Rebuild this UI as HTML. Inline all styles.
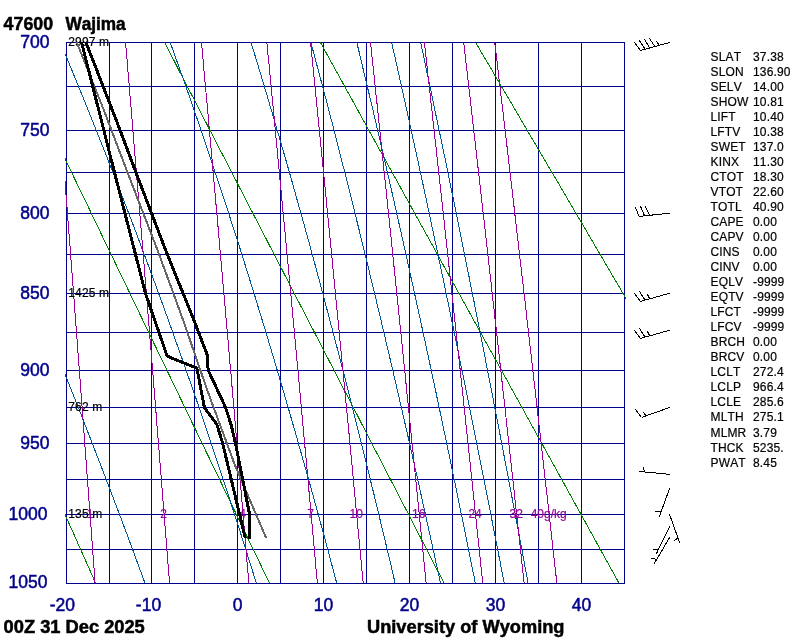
<!DOCTYPE html>
<html><head><meta charset="utf-8"><title>47600 Wajima Sounding</title>
<style>
html,body{margin:0;padding:0;background:#fff;}
body{width:800px;height:640px;overflow:hidden;}
svg{display:block;font-family:"Liberation Sans",Arial,Helvetica,sans-serif;font-kerning:none;}
.s{font-size:12px;stroke-width:0.2px;}
.a{font-size:17.5px;}
.lab{letter-spacing:0.15px;}
.val{letter-spacing:0.15px;}
.b{font-size:17.5px;font-weight:bold;}
</style></head><body>
<svg width="800" height="640" viewBox="0 0 800 640" shape-rendering="crispEdges">
<defs><clipPath id="c"><rect x="65" y="42" width="561" height="542"/></clipPath></defs>
<rect width="800" height="640" fill="#fff"/>
<g stroke="#00008b" stroke-width="1" fill="none">
<line x1="66.0" y1="42.5" x2="625.0" y2="42.5"/>
<line x1="66.0" y1="86.5" x2="625.0" y2="86.5"/>
<line x1="66.0" y1="130.5" x2="625.0" y2="130.5"/>
<line x1="66.0" y1="172.5" x2="625.0" y2="172.5"/>
<line x1="66.0" y1="213.5" x2="625.0" y2="213.5"/>
<line x1="66.0" y1="254.5" x2="625.0" y2="254.5"/>
<line x1="66.0" y1="293.5" x2="625.0" y2="293.5"/>
<line x1="66.0" y1="332.5" x2="625.0" y2="332.5"/>
<line x1="66.0" y1="370.5" x2="625.0" y2="370.5"/>
<line x1="66.0" y1="407.5" x2="625.0" y2="407.5"/>
<line x1="66.0" y1="443.5" x2="625.0" y2="443.5"/>
<line x1="66.0" y1="479.5" x2="625.0" y2="479.5"/>
<line x1="66.0" y1="514.5" x2="625.0" y2="514.5"/>
<line x1="66.0" y1="549.5" x2="625.0" y2="549.5"/>
<line x1="66.0" y1="583.5" x2="625.0" y2="583.5"/>
<line x1="66.5" y1="42.0" x2="66.5" y2="583.5"/>
<line x1="109.5" y1="42.0" x2="109.5" y2="583.5"/>
<line x1="151.5" y1="42.0" x2="151.5" y2="583.5"/>
<line x1="194.5" y1="42.0" x2="194.5" y2="583.5"/>
<line x1="237.5" y1="42.0" x2="237.5" y2="583.5"/>
<line x1="280.5" y1="42.0" x2="280.5" y2="583.5"/>
<line x1="323.5" y1="42.0" x2="323.5" y2="583.5"/>
<line x1="366.5" y1="42.0" x2="366.5" y2="583.5"/>
<line x1="409.5" y1="42.0" x2="409.5" y2="583.5"/>
<line x1="452.5" y1="42.0" x2="452.5" y2="583.5"/>
<line x1="495.5" y1="42.0" x2="495.5" y2="583.5"/>
<line x1="538.5" y1="42.0" x2="538.5" y2="583.5"/>
<line x1="581.5" y1="42.0" x2="581.5" y2="583.5"/>
<line x1="624.5" y1="42.0" x2="624.5" y2="583.5"/>
</g>
<g clip-path="url(#c)" fill="none">
<polyline points="-145.6,42.5 -141.6,51.5 -137.7,60.4 -133.7,69.3 -129.8,78.1 -125.8,86.9 -121.9,95.6 -118.1,104.3 -114.2,113.0 -110.4,121.6 -106.5,130.2 -102.7,138.7 -98.9,147.2 -95.2,155.6 -91.4,164.0 -87.7,172.4 -84.0,180.7 -80.3,189.0 -76.6,197.3 -72.9,205.5 -69.2,213.7 -65.6,221.8 -62.0,229.9 -58.4,238.0 -54.8,246.0 -51.2,254.0 -47.7,262.0 -44.1,270.0 -40.6,277.9 -37.1,285.7 -33.6,293.6 -30.1,301.4 -26.6,309.1 -23.2,316.9 -19.7,324.6 -16.3,332.2 -12.9,339.9 -9.5,347.5 -6.1,355.1 -2.8,362.6 0.6,370.1 3.9,377.6 7.3,385.1 10.6,392.5 13.9,399.9 17.2,407.3 20.5,414.6 23.7,422.0 27.0,429.3 30.2,436.5 33.5,443.8 36.7,451.0 39.9,458.1 43.1,465.3 46.3,472.4 49.4,479.5 52.6,486.6 55.7,493.6 58.9,500.7 62.0,507.7 65.1,514.6 68.2,521.6 71.3,528.5 74.4,535.4 77.4,542.3 80.5,549.1 83.5,556.0 86.6,562.8 89.6,569.6 92.6,576.3 95.6,583.0" stroke="#008000" stroke-width="1" />
<polyline points="9.1,42.5 13.4,51.5 17.7,60.4 22.0,69.3 26.2,78.1 30.4,86.9 34.7,95.6 38.8,104.3 43.0,113.0 47.2,121.6 51.3,130.2 55.4,138.7 59.5,147.2 63.6,155.6 67.6,164.0 71.6,172.4 75.6,180.7 79.6,189.0 83.6,197.3 87.6,205.5 91.5,213.7 95.4,221.8 99.3,229.9 103.2,238.0 107.1,246.0 111.0,254.0 114.8,262.0 118.6,270.0 122.4,277.9 126.2,285.7 130.0,293.6 133.7,301.4 137.5,309.1 141.2,316.9 144.9,324.6 148.6,332.2 152.3,339.9 156.0,347.5 159.6,355.1 163.3,362.6 166.9,370.1 170.5,377.6 174.1,385.1 177.7,392.5 181.2,399.9 184.8,407.3 188.3,414.6 191.8,422.0 195.4,429.3 198.8,436.5 202.3,443.8 205.8,451.0 209.3,458.1 212.7,465.3 216.1,472.4 219.6,479.5 223.0,486.6 226.4,493.6 229.8,500.7 233.1,507.7 236.5,514.6 239.8,521.6 243.2,528.5 246.5,535.4 249.8,542.3 253.1,549.1 256.4,556.0 259.7,562.8 262.9,569.6 266.2,576.3 269.4,583.0" stroke="#008000" stroke-width="1" />
<polyline points="164.6,42.5 169.3,51.5 173.9,60.4 178.4,69.3 183.0,78.1 187.5,86.9 192.1,95.6 196.6,104.3 201.0,113.0 205.5,121.6 209.9,130.2 214.3,138.7 218.7,147.2 223.1,155.6 227.4,164.0 231.7,172.4 236.1,180.7 240.3,189.0 244.6,197.3 248.9,205.5 253.1,213.7 257.3,221.8 261.5,229.9 265.7,238.0 269.8,246.0 274.0,254.0 278.1,262.0 282.2,270.0 286.3,277.9 290.3,285.7 294.4,293.6 298.4,301.4 302.4,309.1 306.4,316.9 310.4,324.6 314.4,332.2 318.3,339.9 322.3,347.5 326.2,355.1 330.1,362.6 334.0,370.1 337.8,377.6 341.7,385.1 345.5,392.5 349.4,399.9 353.2,407.3 357.0,414.6 360.8,422.0 364.5,429.3 368.3,436.5 372.0,443.8 375.7,451.0 379.5,458.1 383.1,465.3 386.8,472.4 390.5,479.5 394.2,486.6 397.8,493.6 401.4,500.7 405.1,507.7 408.7,514.6 412.3,521.6 415.8,528.5 419.4,535.4 423.0,542.3 426.5,549.1 430.0,556.0 433.5,562.8 437.0,569.6 440.5,576.3 444.0,583.0" stroke="#008000" stroke-width="1" />
<polyline points="320.5,42.5 325.4,51.5 330.3,60.4 335.2,69.3 340.1,78.1 344.9,86.9 349.8,95.6 354.6,104.3 359.3,113.0 364.1,121.6 368.8,130.2 373.5,138.7 378.2,147.2 382.9,155.6 387.5,164.0 392.2,172.4 396.8,180.7 401.3,189.0 405.9,197.3 410.4,205.5 414.9,213.7 419.4,221.8 423.9,229.9 428.4,238.0 432.8,246.0 437.2,254.0 441.6,262.0 446.0,270.0 450.4,277.9 454.7,285.7 459.1,293.6 463.4,301.4 467.7,309.1 471.9,316.9 476.2,324.6 480.4,332.2 484.6,339.9 488.8,347.5 493.0,355.1 497.2,362.6 501.3,370.1 505.5,377.6 509.6,385.1 513.7,392.5 517.8,399.9 521.9,407.3 525.9,414.6 530.0,422.0 534.0,429.3 538.0,436.5 542.0,443.8 546.0,451.0 549.9,458.1 553.9,465.3 557.8,472.4 561.7,479.5 565.7,486.6 569.5,493.6 573.4,500.7 577.3,507.7 581.1,514.6 585.0,521.6 588.8,528.5 592.6,535.4 596.4,542.3 600.2,549.1 604.0,556.0 607.7,562.8 611.5,569.6 615.2,576.3 618.9,583.0" stroke="#008000" stroke-width="1" />
<polyline points="475.7,42.5 480.9,51.5 486.2,60.4 491.4,69.3 496.6,78.1 501.7,86.9 506.9,95.6 512.0,104.3 517.1,113.0 522.1,121.6 527.1,130.2 532.2,138.7 537.1,147.2 542.1,155.6 547.0,164.0 552.0,172.4 556.9,180.7 561.7,189.0 566.6,197.3 571.4,205.5 576.2,213.7 581.0,221.8 585.8,229.9 590.5,238.0 595.2,246.0 599.9,254.0 604.6,262.0 609.3,270.0 613.9,277.9 618.5,285.7 623.1,293.6 627.7,301.4 632.3,309.1 636.8,316.9 641.4,324.6 645.9,332.2 650.4,339.9 654.8,347.5 659.3,355.1 663.7,362.6 668.1,370.1 672.5,377.6 676.9,385.1 681.3,392.5 685.6,399.9 690.0,407.3 694.3,414.6 698.6,422.0 702.9,429.3 707.1,436.5 711.4,443.8 715.6,451.0 719.8,458.1 724.0,465.3 728.2,472.4 732.4,479.5 736.5,486.6 740.7,493.6 744.8,500.7 748.9,507.7 753.0,514.6 757.1,521.6 761.2,528.5 765.2,535.4 769.3,542.3 773.3,549.1 777.3,556.0 781.3,562.8 785.3,569.6 789.2,576.3 793.2,583.0" stroke="#008000" stroke-width="1" />
<polyline points="-74.7,42.5 -70.8,51.5 -66.9,60.4 -63.0,69.3 -59.1,78.1 -55.3,86.9 -51.5,95.6 -47.7,104.3 -44.0,113.0 -40.2,121.6 -36.5,130.2 -32.9,138.7 -29.2,147.2 -25.6,155.6 -22.0,164.0 -18.4,172.4 -14.9,180.7 -11.3,189.0 -7.8,197.3 -4.4,205.5 -0.9,213.7 2.5,221.8 5.9,229.9 9.3,238.0 12.7,246.0 16.0,254.0 19.3,262.0 22.6,270.0 25.9,277.9 29.1,285.7 32.4,293.6 35.6,301.4 38.7,309.1 41.9,316.9 45.0,324.6 48.2,332.2 51.3,339.9 54.3,347.5 57.4,355.1 60.4,362.6 63.4,370.1 66.4,377.6 69.4,385.1 72.3,392.5 75.3,399.9 78.2,407.3 81.1,414.6 83.9,422.0 86.8,429.3 89.6,436.5 92.4,443.8 95.2,451.0 98.0,458.1 100.8,465.3 103.5,472.4 106.2,479.5 108.9,486.6 111.6,493.6 114.3,500.7 116.9,507.7 119.6,514.6 122.2,521.6 124.8,528.5 127.4,535.4 129.9,542.3 132.5,549.1 135.0,556.0 137.5,562.8 140.0,569.6 142.5,576.3 144.9,583.0" stroke="#005596" stroke-width="1" />
<polyline points="60.4,42.5 64.1,51.5 67.8,60.4 71.5,69.3 75.1,78.1 78.7,86.9 82.3,95.6 85.8,104.3 89.3,113.0 92.8,121.6 96.2,130.2 99.6,138.7 103.0,147.2 106.3,155.6 109.6,164.0 112.9,172.4 116.2,180.7 119.4,189.0 122.6,197.3 125.7,205.5 128.9,213.7 132.0,221.8 135.1,229.9 138.1,238.0 141.1,246.0 144.1,254.0 147.1,262.0 150.0,270.0 153.0,277.9 155.9,285.7 158.7,293.6 161.6,301.4 164.4,309.1 167.2,316.9 170.0,324.6 172.7,332.2 175.4,339.9 178.1,347.5 180.8,355.1 183.5,362.6 186.1,370.1 188.7,377.6 191.3,385.1 193.9,392.5 196.5,399.9 199.0,407.3 201.5,414.6 204.0,422.0 206.5,429.3 208.9,436.5 211.3,443.8 213.7,451.0 216.1,458.1 218.5,465.3 220.9,472.4 223.2,479.5 225.5,486.6 227.8,493.6 230.1,500.7 232.4,507.7 234.6,514.6 236.9,521.6 239.1,528.5 241.3,535.4 243.5,542.3 245.7,549.1 247.8,556.0 249.9,562.8 252.1,569.6 254.2,576.3 256.3,583.0" stroke="#005596" stroke-width="1" />
<polyline points="170.2,42.5 173.5,51.5 176.6,60.4 179.8,69.3 182.9,78.1 186.0,86.9 189.1,95.6 192.1,104.3 195.1,113.0 198.1,121.6 201.0,130.2 203.9,138.7 206.8,147.2 209.6,155.6 212.4,164.0 215.2,172.4 218.0,180.7 220.7,189.0 223.4,197.3 226.1,205.5 228.8,213.7 231.4,221.8 234.0,229.9 236.6,238.0 239.2,246.0 241.7,254.0 244.2,262.0 246.7,270.0 249.2,277.9 251.6,285.7 254.1,293.6 256.5,301.4 258.8,309.1 261.2,316.9 263.6,324.6 265.9,332.2 268.2,339.9 270.5,347.5 272.7,355.1 275.0,362.6 277.2,370.1 279.4,377.6 281.6,385.1 283.8,392.5 285.9,399.9 288.1,407.3 290.2,414.6 292.3,422.0 294.4,429.3 296.5,436.5 298.5,443.8 300.6,451.0 302.6,458.1 304.6,465.3 306.6,472.4 308.6,479.5 310.6,486.6 312.5,493.6 314.5,500.7 316.4,507.7 318.3,514.6 320.2,521.6 322.1,528.5 324.0,535.4 325.8,542.3 327.7,549.1 329.5,556.0 331.3,562.8 333.1,569.6 334.9,576.3 336.7,583.0" stroke="#005596" stroke-width="1" />
<polyline points="251.0,42.5 253.8,51.5 256.5,60.4 259.2,69.3 261.8,78.1 264.5,86.9 267.1,95.6 269.6,104.3 272.2,113.0 274.7,121.6 277.2,130.2 279.7,138.7 282.2,147.2 284.6,155.6 287.0,164.0 289.4,172.4 291.8,180.7 294.1,189.0 296.4,197.3 298.7,205.5 301.0,213.7 303.3,221.8 305.5,229.9 307.8,238.0 310.0,246.0 312.1,254.0 314.3,262.0 316.5,270.0 318.6,277.9 320.7,285.7 322.8,293.6 324.9,301.4 326.9,309.1 329.0,316.9 331.0,324.6 333.0,332.2 335.0,339.9 337.0,347.5 339.0,355.1 340.9,362.6 342.9,370.1 344.8,377.6 346.7,385.1 348.6,392.5 350.5,399.9 352.4,407.3 354.2,414.6 356.0,422.0 357.9,429.3 359.7,436.5 361.5,443.8 363.3,451.0 365.1,458.1 366.8,465.3 368.6,472.4 370.3,479.5 372.0,486.6 373.8,493.6 375.5,500.7 377.2,507.7 378.8,514.6 380.5,521.6 382.2,528.5 383.8,535.4 385.5,542.3 387.1,549.1 388.7,556.0 390.4,562.8 392.0,569.6 393.5,576.3 395.1,583.0" stroke="#005596" stroke-width="1" />
<polyline points="310.9,42.5 313.3,51.5 315.7,60.4 318.0,69.3 320.4,78.1 322.7,86.9 325.0,95.6 327.3,104.3 329.5,113.0 331.8,121.6 334.0,130.2 336.2,138.7 338.3,147.2 340.5,155.6 342.6,164.0 344.8,172.4 346.9,180.7 349.0,189.0 351.0,197.3 353.1,205.5 355.1,213.7 357.1,221.8 359.1,229.9 361.1,238.0 363.1,246.0 365.1,254.0 367.0,262.0 368.9,270.0 370.8,277.9 372.7,285.7 374.6,293.6 376.5,301.4 378.3,309.1 380.2,316.9 382.0,324.6 383.8,332.2 385.6,339.9 387.4,347.5 389.2,355.1 391.0,362.6 392.7,370.1 394.5,377.6 396.2,385.1 397.9,392.5 399.6,399.9 401.3,407.3 403.0,414.6 404.7,422.0 406.3,429.3 408.0,436.5 409.6,443.8 411.3,451.0 412.9,458.1 414.5,465.3 416.1,472.4 417.7,479.5 419.3,486.6 420.8,493.6 422.4,500.7 423.9,507.7 425.5,514.6 427.0,521.6 428.5,528.5 430.1,535.4 431.6,542.3 433.1,549.1 434.6,556.0 436.0,562.8 437.5,569.6 439.0,576.3 440.4,583.0" stroke="#005596" stroke-width="1" />
<polyline points="356.8,42.5 359.0,51.5 361.1,60.4 363.2,69.3 365.3,78.1 367.4,86.9 369.5,95.6 371.6,104.3 373.6,113.0 375.6,121.6 377.6,130.2 379.6,138.7 381.6,147.2 383.5,155.6 385.5,164.0 387.4,172.4 389.3,180.7 391.2,189.0 393.1,197.3 394.9,205.5 396.8,213.7 398.6,221.8 400.5,229.9 402.3,238.0 404.1,246.0 405.9,254.0 407.6,262.0 409.4,270.0 411.1,277.9 412.9,285.7 414.6,293.6 416.3,301.4 418.0,309.1 419.7,316.9 421.4,324.6 423.0,332.2 424.7,339.9 426.3,347.5 428.0,355.1 429.6,362.6 431.2,370.1 432.8,377.6 434.4,385.1 436.0,392.5 437.5,399.9 439.1,407.3 440.7,414.6 442.2,422.0 443.7,429.3 445.3,436.5 446.8,443.8 448.3,451.0 449.8,458.1 451.3,465.3 452.7,472.4 454.2,479.5 455.7,486.6 457.1,493.6 458.6,500.7 460.0,507.7 461.4,514.6 462.9,521.6 464.3,528.5 465.7,535.4 467.1,542.3 468.5,549.1 469.8,556.0 471.2,562.8 472.6,569.6 474.0,576.3 475.3,583.0" stroke="#005596" stroke-width="1" />
<polyline points="391.6,42.5 393.7,51.5 395.7,60.4 397.7,69.3 399.6,78.1 401.6,86.9 403.5,95.6 405.5,104.3 407.4,113.0 409.3,121.6 411.2,130.2 413.0,138.7 414.9,147.2 416.7,155.6 418.6,164.0 420.4,172.4 422.2,180.7 424.0,189.0 425.8,197.3 427.5,205.5 429.3,213.7 431.0,221.8 432.7,229.9 434.4,238.0 436.2,246.0 437.8,254.0 439.5,262.0 441.2,270.0 442.9,277.9 444.5,285.7 446.1,293.6 447.8,301.4 449.4,309.1 451.0,316.9 452.6,324.6 454.2,332.2 455.7,339.9 457.3,347.5 458.9,355.1 460.4,362.6 461.9,370.1 463.5,377.6 465.0,385.1 466.5,392.5 468.0,399.9 469.5,407.3 471.0,414.6 472.4,422.0 473.9,429.3 475.4,436.5 476.8,443.8 478.3,451.0 479.7,458.1 481.1,465.3 482.5,472.4 483.9,479.5 485.3,486.6 486.7,493.6 488.1,500.7 489.5,507.7 490.9,514.6 492.2,521.6 493.6,528.5 494.9,535.4 496.3,542.3 497.6,549.1 498.9,556.0 500.3,562.8 501.6,569.6 502.9,576.3 504.2,583.0" stroke="#005596" stroke-width="1" />
<polyline points="420.6,42.5 422.6,51.5 424.5,60.4 426.3,69.3 428.2,78.1 430.1,86.9 431.9,95.6 433.7,104.3 435.5,113.0 437.3,121.6 439.1,130.2 440.9,138.7 442.7,147.2 444.4,155.6 446.2,164.0 447.9,172.4 449.6,180.7 451.3,189.0 453.0,197.3 454.7,205.5 456.3,213.7 458.0,221.8 459.6,229.9 461.3,238.0 462.9,246.0 464.5,254.0 466.1,262.0 467.7,270.0 469.3,277.9 470.8,285.7 472.4,293.6 474.0,301.4 475.5,309.1 477.0,316.9 478.6,324.6 480.1,332.2 481.6,339.9 483.1,347.5 484.6,355.1 486.0,362.6 487.5,370.1 489.0,377.6 490.4,385.1 491.9,392.5 493.3,399.9 494.7,407.3 496.2,414.6 497.6,422.0 499.0,429.3 500.4,436.5 501.8,443.8 503.2,451.0 504.5,458.1 505.9,465.3 507.3,472.4 508.6,479.5 510.0,486.6 511.3,493.6 512.6,500.7 513.9,507.7 515.3,514.6 516.6,521.6 517.9,528.5 519.2,535.4 520.5,542.3 521.8,549.1 523.0,556.0 524.3,562.8 525.6,569.6 526.8,576.3 528.1,583.0" stroke="#005596" stroke-width="1" />
<polyline points="54.3,42.5 55.0,51.5 55.7,60.4 56.3,69.3 57.0,78.1 57.7,86.9 58.4,95.6 59.1,104.3 59.7,113.0 60.4,121.6 61.1,130.2 61.7,138.7 62.4,147.2 63.0,155.6 63.7,164.0 64.3,172.4 65.0,180.7 65.6,189.0 66.2,197.3 66.9,205.5 67.5,213.7 68.1,221.8 68.7,229.9 69.4,238.0 70.0,246.0 70.6,254.0 71.2,262.0 71.8,270.0 72.4,277.9 73.0,285.7 73.6,293.6 74.2,301.4 74.7,309.1 75.3,316.9 75.9,324.6 76.5,332.2 77.1,339.9 77.6,347.5 78.2,355.1 78.8,362.6 79.3,370.1 79.9,377.6 80.5,385.1 81.0,392.5 81.6,399.9 82.1,407.3 82.7,414.6 83.2,422.0 83.7,429.3 84.3,436.5 84.8,443.8 85.3,451.0 85.9,458.1 86.4,465.3 86.9,472.4 87.5,479.5 88.0,486.6 88.5,493.6 89.0,500.7 89.5,507.7 90.0,514.6 90.6,521.6 91.1,528.5 91.6,535.4 92.1,542.3 92.6,549.1 93.1,556.0 93.6,562.8 94.1,569.6 94.6,576.3 95.0,583.0" stroke="#990099" stroke-width="1" />
<polyline points="125.6,42.5 126.3,51.5 127.1,60.4 127.8,69.3 128.6,78.1 129.3,86.9 130.0,95.6 130.8,104.3 131.5,113.0 132.2,121.6 132.9,130.2 133.6,138.7 134.3,147.2 135.0,155.6 135.7,164.0 136.4,172.4 137.1,180.7 137.8,189.0 138.5,197.3 139.2,205.5 139.8,213.7 140.5,221.8 141.2,229.9 141.8,238.0 142.5,246.0 143.2,254.0 143.8,262.0 144.5,270.0 145.1,277.9 145.7,285.7 146.4,293.6 147.0,301.4 147.6,309.1 148.3,316.9 148.9,324.6 149.5,332.2 150.1,339.9 150.8,347.5 151.4,355.1 152.0,362.6 152.6,370.1 153.2,377.6 153.8,385.1 154.4,392.5 155.0,399.9 155.6,407.3 156.2,414.6 156.7,422.0 157.3,429.3 157.9,436.5 158.5,443.8 159.1,451.0 159.6,458.1 160.2,465.3 160.8,472.4 161.3,479.5 161.9,486.6 162.5,493.6 163.0,500.7 163.6,507.7 164.1,514.6 164.7,521.6 165.2,528.5 165.8,535.4 166.3,542.3 166.8,549.1 167.4,556.0 167.9,562.8 168.4,569.6 169.0,576.3 169.5,583.0" stroke="#990099" stroke-width="1" />
<polyline points="201.5,42.5 202.3,51.5 203.1,60.4 203.9,69.3 204.7,78.1 205.5,86.9 206.3,95.6 207.1,104.3 207.9,113.0 208.6,121.6 209.4,130.2 210.2,138.7 210.9,147.2 211.7,155.6 212.4,164.0 213.2,172.4 213.9,180.7 214.7,189.0 215.4,197.3 216.1,205.5 216.9,213.7 217.6,221.8 218.3,229.9 219.0,238.0 219.7,246.0 220.4,254.0 221.1,262.0 221.8,270.0 222.5,277.9 223.2,285.7 223.9,293.6 224.6,301.4 225.3,309.1 225.9,316.9 226.6,324.6 227.3,332.2 228.0,339.9 228.6,347.5 229.3,355.1 229.9,362.6 230.6,370.1 231.3,377.6 231.9,385.1 232.5,392.5 233.2,399.9 233.8,407.3 234.5,414.6 235.1,422.0 235.7,429.3 236.3,436.5 237.0,443.8 237.6,451.0 238.2,458.1 238.8,465.3 239.4,472.4 240.0,479.5 240.7,486.6 241.3,493.6 241.9,500.7 242.5,507.7 243.1,514.6 243.6,521.6 244.2,528.5 244.8,535.4 245.4,542.3 246.0,549.1 246.6,556.0 247.1,562.8 247.7,569.6 248.3,576.3 248.9,583.0" stroke="#990099" stroke-width="1" />
<polyline points="266.9,42.5 267.7,51.5 268.6,60.4 269.5,69.3 270.3,78.1 271.2,86.9 272.0,95.6 272.8,104.3 273.7,113.0 274.5,121.6 275.3,130.2 276.1,138.7 276.9,147.2 277.7,155.6 278.5,164.0 279.3,172.4 280.1,180.7 280.9,189.0 281.7,197.3 282.5,205.5 283.2,213.7 284.0,221.8 284.8,229.9 285.5,238.0 286.3,246.0 287.0,254.0 287.8,262.0 288.5,270.0 289.3,277.9 290.0,285.7 290.8,293.6 291.5,301.4 292.2,309.1 292.9,316.9 293.7,324.6 294.4,332.2 295.1,339.9 295.8,347.5 296.5,355.1 297.2,362.6 297.9,370.1 298.6,377.6 299.3,385.1 300.0,392.5 300.6,399.9 301.3,407.3 302.0,414.6 302.7,422.0 303.3,429.3 304.0,436.5 304.7,443.8 305.3,451.0 306.0,458.1 306.7,465.3 307.3,472.4 308.0,479.5 308.6,486.6 309.2,493.6 309.9,500.7 310.5,507.7 311.2,514.6 311.8,521.6 312.4,528.5 313.0,535.4 313.7,542.3 314.3,549.1 314.9,556.0 315.5,562.8 316.1,569.6 316.8,576.3 317.4,583.0" stroke="#990099" stroke-width="1" />
<polyline points="310.6,42.5 311.5,51.5 312.4,60.4 313.2,69.3 314.1,78.1 315.0,86.9 315.9,95.6 316.8,104.3 317.6,113.0 318.5,121.6 319.3,130.2 320.2,138.7 321.0,147.2 321.9,155.6 322.7,164.0 323.5,172.4 324.4,180.7 325.2,189.0 326.0,197.3 326.8,205.5 327.6,213.7 328.4,221.8 329.2,229.9 330.0,238.0 330.8,246.0 331.6,254.0 332.4,262.0 333.1,270.0 333.9,277.9 334.7,285.7 335.4,293.6 336.2,301.4 336.9,309.1 337.7,316.9 338.5,324.6 339.2,332.2 339.9,339.9 340.7,347.5 341.4,355.1 342.1,362.6 342.9,370.1 343.6,377.6 344.3,385.1 345.0,392.5 345.7,399.9 346.4,407.3 347.2,414.6 347.9,422.0 348.6,429.3 349.3,436.5 349.9,443.8 350.6,451.0 351.3,458.1 352.0,465.3 352.7,472.4 353.4,479.5 354.0,486.6 354.7,493.6 355.4,500.7 356.0,507.7 356.7,514.6 357.4,521.6 358.0,528.5 358.7,535.4 359.3,542.3 360.0,549.1 360.6,556.0 361.3,562.8 361.9,569.6 362.5,576.3 363.2,583.0" stroke="#990099" stroke-width="1" />
<polyline points="370.5,42.5 371.5,51.5 372.4,60.4 373.4,69.3 374.3,78.1 375.2,86.9 376.1,95.6 377.1,104.3 378.0,113.0 378.9,121.6 379.8,130.2 380.7,138.7 381.6,147.2 382.5,155.6 383.3,164.0 384.2,172.4 385.1,180.7 386.0,189.0 386.8,197.3 387.7,205.5 388.5,213.7 389.4,221.8 390.2,229.9 391.1,238.0 391.9,246.0 392.7,254.0 393.5,262.0 394.4,270.0 395.2,277.9 396.0,285.7 396.8,293.6 397.6,301.4 398.4,309.1 399.2,316.9 400.0,324.6 400.8,332.2 401.6,339.9 402.3,347.5 403.1,355.1 403.9,362.6 404.7,370.1 405.4,377.6 406.2,385.1 406.9,392.5 407.7,399.9 408.4,407.3 409.2,414.6 409.9,422.0 410.7,429.3 411.4,436.5 412.1,443.8 412.9,451.0 413.6,458.1 414.3,465.3 415.0,472.4 415.7,479.5 416.5,486.6 417.2,493.6 417.9,500.7 418.6,507.7 419.3,514.6 420.0,521.6 420.7,528.5 421.4,535.4 422.0,542.3 422.7,549.1 423.4,556.0 424.1,562.8 424.8,569.6 425.4,576.3 426.1,583.0" stroke="#990099" stroke-width="1" />
<polyline points="424.4,42.5 425.4,51.5 426.4,60.4 427.3,69.3 428.3,78.1 429.3,86.9 430.3,95.6 431.2,104.3 432.2,113.0 433.1,121.6 434.1,130.2 435.0,138.7 436.0,147.2 436.9,155.6 437.8,164.0 438.7,172.4 439.7,180.7 440.6,189.0 441.5,197.3 442.4,205.5 443.3,213.7 444.2,221.8 445.0,229.9 445.9,238.0 446.8,246.0 447.7,254.0 448.5,262.0 449.4,270.0 450.2,277.9 451.1,285.7 451.9,293.6 452.8,301.4 453.6,309.1 454.5,316.9 455.3,324.6 456.1,332.2 456.9,339.9 457.8,347.5 458.6,355.1 459.4,362.6 460.2,370.1 461.0,377.6 461.8,385.1 462.6,392.5 463.4,399.9 464.2,407.3 465.0,414.6 465.7,422.0 466.5,429.3 467.3,436.5 468.0,443.8 468.8,451.0 469.6,458.1 470.3,465.3 471.1,472.4 471.8,479.5 472.6,486.6 473.3,493.6 474.1,500.7 474.8,507.7 475.6,514.6 476.3,521.6 477.0,528.5 477.7,535.4 478.5,542.3 479.2,549.1 479.9,556.0 480.6,562.8 481.3,569.6 482.0,576.3 482.7,583.0" stroke="#990099" stroke-width="1" />
<polyline points="463.7,42.5 464.7,51.5 465.7,60.4 466.8,69.3 467.8,78.1 468.8,86.9 469.8,95.6 470.8,104.3 471.8,113.0 472.8,121.6 473.7,130.2 474.7,138.7 475.7,147.2 476.7,155.6 477.6,164.0 478.6,172.4 479.5,180.7 480.4,189.0 481.4,197.3 482.3,205.5 483.2,213.7 484.2,221.8 485.1,229.9 486.0,238.0 486.9,246.0 487.8,254.0 488.7,262.0 489.6,270.0 490.5,277.9 491.4,285.7 492.2,293.6 493.1,301.4 494.0,309.1 494.8,316.9 495.7,324.6 496.6,332.2 497.4,339.9 498.3,347.5 499.1,355.1 499.9,362.6 500.8,370.1 501.6,377.6 502.4,385.1 503.2,392.5 504.1,399.9 504.9,407.3 505.7,414.6 506.5,422.0 507.3,429.3 508.1,436.5 508.9,443.8 509.7,451.0 510.5,458.1 511.3,465.3 512.1,472.4 512.8,479.5 513.6,486.6 514.4,493.6 515.1,500.7 515.9,507.7 516.7,514.6 517.4,521.6 518.2,528.5 518.9,535.4 519.7,542.3 520.4,549.1 521.2,556.0 521.9,562.8 522.6,569.6 523.4,576.3 524.1,583.0" stroke="#990099" stroke-width="1" />
<polyline points="494.7,42.5 495.8,51.5 496.9,60.4 497.9,69.3 498.9,78.1 500.0,86.9 501.0,95.6 502.0,104.3 503.1,113.0 504.1,121.6 505.1,130.2 506.1,138.7 507.1,147.2 508.1,155.6 509.0,164.0 510.0,172.4 511.0,180.7 512.0,189.0 512.9,197.3 513.9,205.5 514.8,213.7 515.8,221.8 516.7,229.9 517.6,238.0 518.6,246.0 519.5,254.0 520.4,262.0 521.3,270.0 522.3,277.9 523.2,285.7 524.1,293.6 525.0,301.4 525.9,309.1 526.7,316.9 527.6,324.6 528.5,332.2 529.4,339.9 530.2,347.5 531.1,355.1 532.0,362.6 532.8,370.1 533.7,377.6 534.5,385.1 535.4,392.5 536.2,399.9 537.1,407.3 537.9,414.6 538.7,422.0 539.6,429.3 540.4,436.5 541.2,443.8 542.0,451.0 542.8,458.1 543.6,465.3 544.4,472.4 545.2,479.5 546.0,486.6 546.8,493.6 547.6,500.7 548.4,507.7 549.2,514.6 550.0,521.6 550.7,528.5 551.5,535.4 552.3,542.3 553.0,549.1 553.8,556.0 554.6,562.8 555.3,569.6 556.1,576.3 556.8,583.0" stroke="#990099" stroke-width="1" />
</g>
<g class="s" fill="#990099" stroke="#990099" text-anchor="middle">
<text x="90.2" y="518">1</text>
<text x="163.6" y="518">2</text>
<text x="242.6" y="518">4</text>
<text x="310.7" y="518">7</text>
<text x="356.2" y="518">10</text>
<text x="418.8" y="518">16</text>
<text x="475.1" y="518">24</text>
<text x="516.2" y="518">32</text>
<text x="548.7" y="518">40g/kg</text>
</g>
<g class="s" fill="#000" stroke="#000">
<text x="68.3" y="45.5" class="val">2997 m</text>
<text x="68.3" y="296.5" class="val">1425 m</text>
<text x="68.3" y="410.5" class="val">762 m</text>
<text x="68.3" y="517.5" class="val">135 m</text>
</g>
<g fill="none" stroke-linejoin="round">
<polyline points="76.6,42.0 103.8,110.0 130.4,180.0 157.5,250.0 183.1,320.0 207.2,390.0 233.0,460.0 235.7,467.0 266.2,538.0" stroke="#666666" stroke-width="2" />
<polyline points="81.5,42.0 116.4,180.0 145.6,293.8 167.2,356.2 196.9,368.1 204.4,407.5 216.9,424.4 222.8,443.8 245.2,538.0" stroke="#000" stroke-width="3" />
<polyline points="85.8,42.0 116.2,120.0 138.8,180.0 165.6,250.0 193.8,320.0 207.5,355.5 208.1,370.0 225.6,407.5 231.2,425.0 235.6,443.8 249.5,514.0 249.5,538.6" stroke="#000" stroke-width="3" />
</g>
<g stroke="#000" stroke-width="1" fill="none">
<line x1="669.9" y1="42.4" x2="640.4" y2="50.5"/>
<line x1="640.4" y1="50.5" x2="634.2" y2="42.2"/>
<line x1="644.9" y1="48.9" x2="639.2" y2="40.2"/>
<line x1="649.4" y1="47.5" x2="644.3" y2="39.0"/>
<line x1="654.6" y1="46.0" x2="649.2" y2="38.1"/>
<line x1="658.8" y1="44.9" x2="656.4" y2="41.1"/>
<line x1="669.9" y1="213.2" x2="639.2" y2="216.4"/>
<line x1="639.2" y1="216.4" x2="635.1" y2="207.0"/>
<line x1="644.5" y1="215.6" x2="640.4" y2="206.2"/>
<line x1="649.6" y1="214.9" x2="645.2" y2="206.2"/>
<line x1="669.9" y1="293.2" x2="640.4" y2="301.4"/>
<line x1="640.4" y1="301.4" x2="634.2" y2="293.2"/>
<line x1="644.9" y1="299.8" x2="639.2" y2="291.1"/>
<line x1="649.6" y1="298.6" x2="647.4" y2="294.3"/>
<line x1="669.9" y1="330.2" x2="640.4" y2="338.4"/>
<line x1="640.4" y1="338.4" x2="634.2" y2="330.2"/>
<line x1="644.9" y1="336.8" x2="639.2" y2="328.1"/>
<line x1="649.6" y1="335.6" x2="647.4" y2="331.3"/>
<line x1="669.9" y1="407.4" x2="641.5" y2="417.4"/>
<line x1="641.5" y1="417.4" x2="635.1" y2="409.1"/>
<line x1="646.0" y1="415.9" x2="643.2" y2="412.1"/>
<line x1="669.9" y1="474.4" x2="639.2" y2="471.4"/>
<line x1="644.4" y1="471.2" x2="643.4" y2="467.2"/>
<line x1="669.6" y1="488.4" x2="659.4" y2="516.5"/>
<line x1="660.9" y1="511.4" x2="655.0" y2="511.4"/>
<line x1="669.5" y1="514.4" x2="679.7" y2="542.7"/>
<line x1="678.0" y1="538.0" x2="674.2" y2="540.6"/>
<line x1="669.7" y1="526.3" x2="656.4" y2="553.7"/>
<line x1="658.0" y1="549.2" x2="653.1" y2="549.2"/>
<line x1="669.7" y1="537.3" x2="654.3" y2="563.5"/>
<line x1="656.7" y1="559.4" x2="651.1" y2="558.3"/>
</g>
<g class="a" fill="#00008b" stroke="#00008b" stroke-width="0.5">
<text x="49.5" y="47.5" text-anchor="end">700</text>
<text x="49.5" y="135.5" text-anchor="end">750</text>
<text x="49.5" y="218.5" text-anchor="end">800</text>
<text x="49.5" y="298.5" text-anchor="end">850</text>
<text x="49.5" y="375.5" text-anchor="end">900</text>
<text x="49.5" y="448.5" text-anchor="end">950</text>
<text x="47.4" y="519.5" text-anchor="end">1000</text>
<text x="47.4" y="587.7" text-anchor="end">1050</text>
<text x="62.4" y="611" text-anchor="middle">-20</text>
<text x="148.5" y="611" text-anchor="middle">-10</text>
<text x="237.5" y="611" text-anchor="middle">0</text>
<text x="323.5" y="611" text-anchor="middle">10</text>
<text x="409.5" y="611" text-anchor="middle">20</text>
<text x="495.5" y="611" text-anchor="middle">30</text>
<text x="581.5" y="611" text-anchor="middle">40</text>
</g>
<g class="b" fill="#000" stroke="#000" stroke-width="0.5">
<text x="3.6" y="29.5" textLength="49.5" lengthAdjust="spacingAndGlyphs">47600</text>
<text x="65.4" y="29.5" textLength="60.3" lengthAdjust="spacingAndGlyphs">Wajima</text>
<text x="3.6" y="632.6" textLength="141.2" lengthAdjust="spacingAndGlyphs">00Z 31 Dec 2025</text>
<text x="367" y="632.6" textLength="197.5" lengthAdjust="spacingAndGlyphs">University of Wyoming</text>
</g>
<g class="s" fill="#000" stroke="#000">
<text x="710.5" y="60.50" class="lab">SLAT</text><text x="753" y="60.50" class="val">37.38</text>
<text x="710.5" y="75.54" class="lab">SLON</text><text x="753" y="75.54" class="val">136.90</text>
<text x="710.5" y="90.58" class="lab">SELV</text><text x="753" y="90.58" class="val">14.00</text>
<text x="710.5" y="105.62" class="lab">SHOW</text><text x="753" y="105.62" class="val">10.81</text>
<text x="710.5" y="120.66" class="lab">LIFT</text><text x="753" y="120.66" class="val">10.40</text>
<text x="710.5" y="135.70" class="lab">LFTV</text><text x="753" y="135.70" class="val">10.38</text>
<text x="710.5" y="150.74" class="lab">SWET</text><text x="753" y="150.74" class="val">137.0</text>
<text x="710.5" y="165.78" class="lab">KINX</text><text x="753" y="165.78" class="val">11.30</text>
<text x="710.5" y="180.82" class="lab">CTOT</text><text x="753" y="180.82" class="val">18.30</text>
<text x="710.5" y="195.86" class="lab">VTOT</text><text x="753" y="195.86" class="val">22.60</text>
<text x="710.5" y="210.90" class="lab">TOTL</text><text x="753" y="210.90" class="val">40.90</text>
<text x="710.5" y="225.94" class="lab">CAPE</text><text x="753" y="225.94" class="val">0.00</text>
<text x="710.5" y="240.98" class="lab">CAPV</text><text x="753" y="240.98" class="val">0.00</text>
<text x="710.5" y="256.02" class="lab">CINS</text><text x="753" y="256.02" class="val">0.00</text>
<text x="710.5" y="271.06" class="lab">CINV</text><text x="753" y="271.06" class="val">0.00</text>
<text x="710.5" y="286.10" class="lab">EQLV</text><text x="753" y="286.10" class="val">-9999</text>
<text x="710.5" y="301.14" class="lab">EQTV</text><text x="753" y="301.14" class="val">-9999</text>
<text x="710.5" y="316.18" class="lab">LFCT</text><text x="753" y="316.18" class="val">-9999</text>
<text x="710.5" y="331.22" class="lab">LFCV</text><text x="753" y="331.22" class="val">-9999</text>
<text x="710.5" y="346.26" class="lab">BRCH</text><text x="753" y="346.26" class="val">0.00</text>
<text x="710.5" y="361.30" class="lab">BRCV</text><text x="753" y="361.30" class="val">0.00</text>
<text x="710.5" y="376.34" class="lab">LCLT</text><text x="753" y="376.34" class="val">272.4</text>
<text x="710.5" y="391.38" class="lab">LCLP</text><text x="753" y="391.38" class="val">966.4</text>
<text x="710.5" y="406.42" class="lab">LCLE</text><text x="753" y="406.42" class="val">285.6</text>
<text x="710.5" y="421.46" class="lab">MLTH</text><text x="753" y="421.46" class="val">275.1</text>
<text x="710.5" y="436.50" class="lab">MLMR</text><text x="753" y="436.50" class="val">3.79</text>
<text x="710.5" y="451.54" class="lab">THCK</text><text x="753" y="451.54" class="val">5235.</text>
<text x="710.5" y="466.58" class="lab">PWAT</text><text x="753" y="466.58" class="val">8.45</text>
</g>
</svg>
</body></html>
